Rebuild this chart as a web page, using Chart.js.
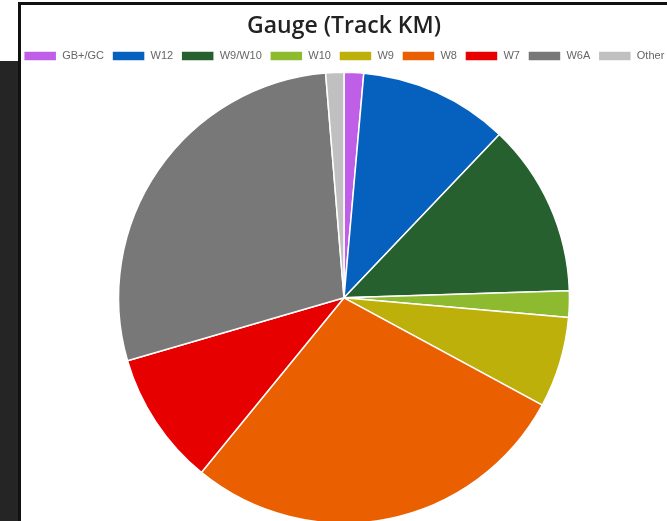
<!DOCTYPE html>
<html>
<head>
<meta charset="utf-8">
<script src="https://cdn.jsdelivr.net/npm/chart.js@4/dist/chart.umd.min.js"></script>
<style>
  html, body { margin: 0; padding: 0; width: 667px; height: 521px; overflow: hidden; background: #fff; }
  .fondo { position: absolute; left: 0; top: 61px; width: 18px; height: 460px; background: #252525; }
  .panel { position: absolute; left: 18px; top: 2px; width: 700px; height: 540px; background: #fff; }
  .borde { position: absolute; left: 18px; top: 2px; width: 700px; height: 540px; border-left: 3px solid #111; border-top: 3px solid #111; z-index: 2; }
  .caja { position: absolute; left: 1px; top: 5px; width: 686px; height: 519px; z-index: 1; }
</style>
</head>
<body>
<div class="fondo"></div>
<div class="panel"></div>
<div class="caja"><canvas id="chart-gauge"></canvas></div>
<div class="borde"></div>
<script>
const etiquetas = ['GB+/GC', 'W12', 'W9/W10', 'W10', 'W9', 'W8', 'W7', 'W6A', 'Other']
const kms = [14, 107, 124, 19, 65, 280, 96, 282, 13]
const colores = ['#bf5fe8', '#0560be', '#25602e', '#8dba2f', '#bdb00b', '#ea5f00', '#e60000', '#787878', '#c0c0c0']

const ctx = document.getElementById('chart-gauge').getContext('2d')
const chartGauge = new Chart(ctx, {
  type: 'pie',
  data: {
    labels: etiquetas,
    datasets: [{ data: kms, backgroundColor: colores, borderColor: '#fff', borderWidth: 1.5, hoverOffset: 0 }]
  },
  options: {
    responsive: true,
    maintainAspectRatio: false,
    animation: false,
    layout: { padding: 0 },
    plugins: {
      title: {
        display: true,
        text: 'Gauge (Track KM)',
        color: '#222',
        font: { family: '"Open Sans", sans-serif', size: 23, weight: '600' },
        padding: { top: 8, bottom: 2 }
      },
      legend: {
        position: 'top',
        labels: { color: '#666', boxWidth: 33, boxHeight: 10, padding: 8, font: { family: '"Liberation Sans", Arial, sans-serif', size: 11 } }
      },
      tooltip: { enabled: false }
    }
  }
})
</script>
</body>
</html>
